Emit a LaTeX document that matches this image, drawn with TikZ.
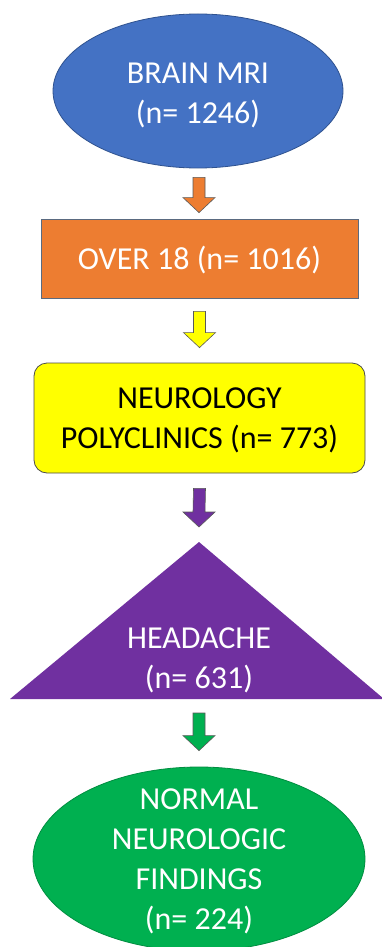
\documentclass[tikz,border=0pt]{standalone}
\usepackage{fontspec}
\setmainfont{Carlito}
\usetikzlibrary{shapes.geometric,calc}
\definecolor{cblue}{HTML}{4472C4}
\definecolor{cblueb}{HTML}{2F528F}
\definecolor{corange}{HTML}{ED7D31}
\definecolor{cyellow}{HTML}{FFFF00}
\definecolor{cpurple}{HTML}{7030A0}
\definecolor{cgreen}{HTML}{00B050}
\definecolor{cline}{HTML}{5A6A80}
\tikzset{
  lbl/.style={font=\fontsize{32}{40}\selectfont, align=center, inner sep=0pt},
  blk/.style={draw=cline, line width=0.8pt},
  barrow/.style={draw=gray!70!black, line width=0.6pt, line join=miter},
}
\newcommand\blockarr[3]{%
  \draw[barrow, fill=#3] ($(#1)+(-6,0)$) -- ($(#2)+(-6,-15)$) -- ($(#2)+(-16,-15)$) -- (#2)
    -- ($(#2)+(16,-15)$) -- ($(#2)+(6,-15)$) -- ($(#1)+(6,0)$) -- cycle;}
\begin{document}
\begin{tikzpicture}[x=1pt,y=-1pt]
\useasboundingbox[fill=white] (0,0) rectangle (382,947);
% nodes
\node[ellipse, blk, draw=cblueb, fill=cblue, minimum width=290, minimum height=154, inner sep=0pt] (mri) at (198,91) {};
\node[lbl, text=white] (mrit) at (198,95) {BRAIN MRI\\(n= 1246)};
\node[rectangle, blk, fill=corange, minimum width=317, minimum height=79, inner sep=0pt] (over) at (199.5,258.5) {};
\node[lbl, text=white] (overt) at (199.5,260) {OVER 18 (n= 1016)};
\node[rectangle, rounded corners=13pt, draw=gray!60!black, line width=0.8pt, fill=cyellow, minimum width=331, minimum height=110, inner sep=0pt] (neuro) at (199.5,418) {};
\node[lbl, text=black] (neurot) at (199.5,420) {NEUROLOGY\\POLYCLINICS (n= 773)};
% triangle
\coordinate (apex) at (199,542);
\coordinate (bl) at (10,699);
\coordinate (br) at (384,699);
\coordinate (base) at (199,699);
\fill[cpurple] (apex) -- (br) -- (bl) -- cycle;
\node[lbl, text=white] (head) at (199,660) {HEADACHE\\(n= 631)};
\node[ellipse, draw=cgreen!80!black, line width=0.8pt, fill=cgreen, minimum width=332, minimum height=184, inner sep=0pt] (normal) at (199,859) {};
\node[lbl, text=white] (normalt) at (199,861) {NORMAL\\NEUROLOGIC\\FINDINGS\\(n= 224)};
% connectors
\coordinate (a1s) at ($(mri.south)+(1,9)$);
\coordinate (a1t) at ($(over.north)+(-0.5,-6)$);
\blockarr{a1s}{a1t}{corange}
\coordinate (a2s) at ($(over.south)+(0,13)$);
\coordinate (a2t) at ($(neuro.north)+(0,-15)$);
\blockarr{a2s}{a2t}{cyellow}
\coordinate (a3s) at ($(neuro.south)+(0,15)$);
\coordinate (a3t) at ($(apex)+(0,-15)$);
\blockarr{a3s}{a3t}{cpurple}
\coordinate (a4s) at ($(base)+(0,14)$);
\coordinate (a4t) at ($(normal.north)+(0,-16)$);
\blockarr{a4s}{a4t}{cgreen}
\end{tikzpicture}
\end{document}
